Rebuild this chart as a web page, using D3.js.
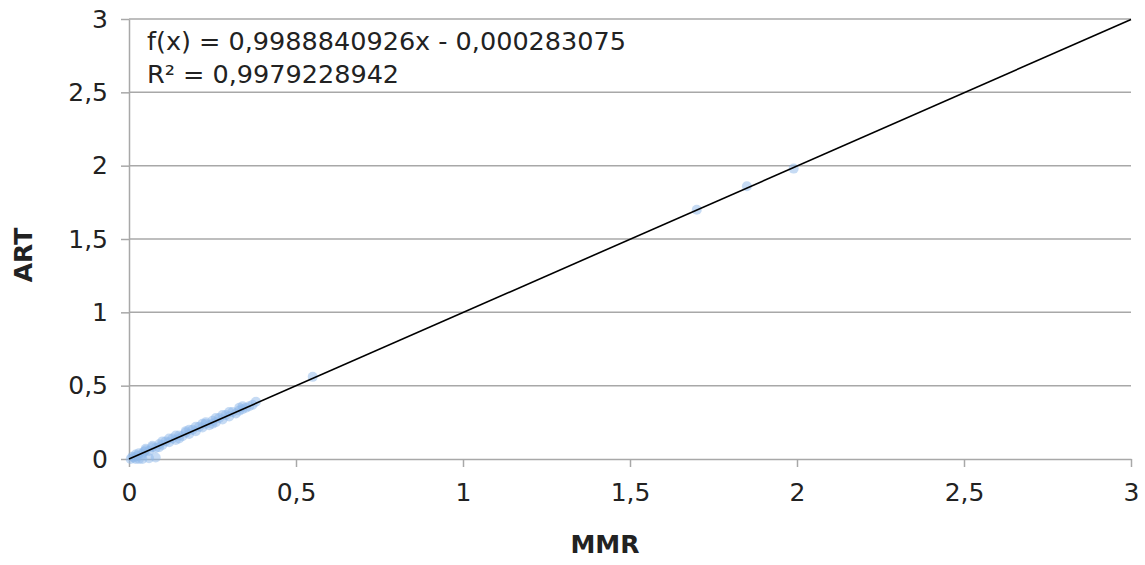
<!DOCTYPE html>
<html>
<head>
<meta charset="utf-8">
<script src="https://cdn.jsdelivr.net/npm/d3@7"></script>
<style>
  body { margin: 0; background: #fff; }
  text { font-family: "DejaVu Sans", sans-serif; fill: #222; }
</style>
</head>
<body>
<div id="chart-area"></div>
<script>
// canvas size
const svgWidth = 1145,
      svgHeight = 565;

const margin = { left: 129, right: 14, top: 19, bottom: 106 };

var chartHeight = svgHeight - margin.top - margin.bottom,
    chartWidth = svgWidth - margin.left - margin.right;

// data
var mmr = [0.005, 0.01, 0.015, 0.02, 0.025, 0.03, 0.04, 0.045, 0.05, 0.06, 0.07, 0.08,
           0.09, 0.1, 0.11, 0.12, 0.13, 0.14, 0.15, 0.16, 0.17, 0.18, 0.19, 0.2,
           0.21, 0.22, 0.23, 0.24, 0.25, 0.26, 0.27, 0.28, 0.29, 0.3, 0.31, 0.32,
           0.33, 0.34, 0.35, 0.36, 0.37, 0.04, 0.06, 0.08, 0.03, 0.12, 0.18, 0.22,
           0.28, 0.33, 0.02, 0.05, 0.07, 0.1, 0.14, 0.17, 0.2, 0.23, 0.26, 0.3,
           0.34, 0.38, 0.09, 0.15, 0.25, 0.55, 1.7, 1.85, 1.99];
var art = [0.0, 0.015, 0.01, 0.03, 0.02, 0.04, 0.035, 0.05, 0.06, 0.055, 0.08, 0.075,
           0.1, 0.095, 0.12, 0.115, 0.14, 0.13, 0.16, 0.155, 0.18, 0.17, 0.2, 0.19,
           0.22, 0.215, 0.24, 0.23, 0.26, 0.25, 0.28, 0.27, 0.3, 0.29, 0.32, 0.31,
           0.33, 0.34, 0.35, 0.36, 0.37, 0.0, 0.005, 0.01, 0.0, 0.14, 0.2, 0.24,
           0.3, 0.35, 0.0, 0.07, 0.09, 0.12, 0.16, 0.19, 0.22, 0.25, 0.28, 0.32,
           0.36, 0.39, 0.08, 0.14, 0.24, 0.56, 1.7, 1.86, 1.98];

var xTicks = [0, 0.5, 1, 1.5, 2, 2.5, 3];
var yTicks = [0, 0.5, 1, 1.5, 2, 2.5, 3];

var slope = 0.9988840926,
    intercept = -0.000283075;
var eqLines = ["f(x) = 0,9988840926x - 0,000283075", "R² = 0,9979228942"];

var fmt = function(d){ return String(d).replace(".", ","); };

// add svg for chart
var svg = d3.select("#chart-area").append("svg")
    .attr("width", svgWidth)
    .attr("height", svgHeight);

var g = svg.append("g")
    .attr("transform", "translate("+margin.left+","+margin.top+")");

// Scales
var xScale = d3.scaleLinear().domain([0, 3]).range([0, chartWidth]);
var yScale = d3.scaleLinear().domain([0, 3]).range([chartHeight, 0]);

// Gridlines
g.append("g")
    .selectAll("line")
    .data(yTicks.slice(1))
    .enter().append("line")
    .attr("x1", 0)
    .attr("x2", chartWidth)
    .attr("y1", function(d){ return yScale(d); })
    .attr("y2", function(d){ return yScale(d); })
    .attr("stroke", "#a8a8a8")
    .attr("stroke-width", 1.5);

// Axes
var xAxisCall = d3.axisBottom(xScale)
    .tickValues(xTicks)
    .tickSize(8)
    .tickSizeOuter(0)
    .tickPadding(16)
    .tickFormat(fmt);
var xAxis = g.append("g")
    .attr("class", "x-axis")
    .attr("transform", "translate(0,"+chartHeight+")")
    .call(xAxisCall);

var yAxisCall = d3.axisLeft(yScale)
    .tickValues(yTicks)
    .tickSize(8)
    .tickSizeOuter(0)
    .tickPadding(13)
    .tickFormat(fmt);
var yAxis = g.append("g")
    .attr("class", "y-axis")
    .call(yAxisCall);

svg.selectAll(".domain, .tick line")
    .attr("stroke", "#a8a8a8")
    .attr("stroke-width", 1.5);
svg.selectAll(".tick text")
    .attr("font-size", "25px")
    .attr("font-family", "DejaVu Sans, sans-serif")
    .attr("fill", "#222");

// Points
g.append("g")
    .selectAll("circle")
    .data(mmr)
    .enter().append("circle")
    .attr("cx", function(d){ return xScale(d); })
    .attr("cy", function(d, i){ return yScale(art[i]); })
    .attr("r", 5)
    .attr("fill", "#8db8ea")
    .attr("fill-opacity", 0.5);

// Trend line
g.append("line")
    .attr("x1", xScale(0))
    .attr("y1", yScale(intercept))
    .attr("x2", xScale(3))
    .attr("y2", yScale(slope*3 + intercept))
    .attr("stroke", "#000")
    .attr("stroke-width", 1.6);

// Equation
g.selectAll(".eq")
    .data(eqLines)
    .enter().append("text")
    .attr("class", "eq")
    .attr("x", 18)
    .attr("y", function(d, i){ return 31 + i*33; })
    .attr("font-size", "25.5px")
    .text(function(d){ return d; });

// Axes labels
g.append("text")
    .attr("x", 605 - margin.left)
    .attr("y", chartHeight + 94)
    .attr("font-size", "25px")
    .attr("font-weight", "bold")
    .attr("text-anchor", "middle")
    .text("MMR");

g.append("text")
    .attr("transform", "rotate(-90)")
    .attr("x", -(255 - margin.top))
    .attr("y", -margin.left + 32)
    .attr("font-size", "25px")
    .attr("font-weight", "bold")
    .attr("text-anchor", "middle")
    .text("ART");
</script>
</body>
</html>
